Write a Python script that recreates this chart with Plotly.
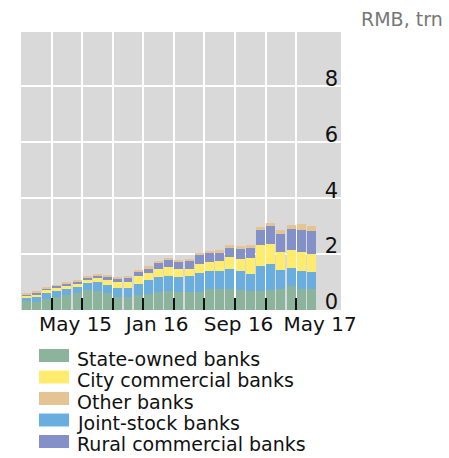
import plotly.graph_objects as go

# Monthly, Jan 2015 - May 2017 (RMB trn)
months = [
    "Jan 15", "Feb 15", "Mar 15", "Apr 15", "May 15", "Jun 15", "Jul 15", "Aug 15",
    "Sep 15", "Oct 15", "Nov 15", "Dec 15", "Jan 16", "Feb 16", "Mar 16", "Apr 16",
    "May 16", "Jun 16", "Jul 16", "Aug 16", "Sep 16", "Oct 16", "Nov 16", "Dec 16",
    "Jan 17", "Feb 17", "Mar 17", "Apr 17", "May 17",
]
state_owned = [0.31, 0.30, 0.39, 0.45, 0.54, 0.61, 0.73, 0.69, 0.62, 0.45, 0.45, 0.53, 0.58, 0.65, 0.68,
               0.65, 0.65, 0.65, 0.74, 0.75, 0.74, 0.71, 0.69, 0.68, 0.71, 0.75, 0.86, 0.75, 0.75]
joint_stock = [0.13, 0.15, 0.23, 0.24, 0.22, 0.22, 0.22, 0.32, 0.28, 0.35, 0.35, 0.39, 0.49, 0.53, 0.54,
               0.53, 0.56, 0.66, 0.65, 0.64, 0.72, 0.68, 0.59, 0.89, 0.93, 0.69, 0.64, 0.64, 0.61]
city_commercial = [0.09, 0.12, 0.10, 0.11, 0.11, 0.11, 0.13, 0.13, 0.17, 0.20, 0.22, 0.29, 0.26, 0.28, 0.33,
                   0.29, 0.25, 0.34, 0.32, 0.36, 0.44, 0.43, 0.58, 0.75, 0.72, 0.64, 0.64, 0.68, 0.65]
rural_commercial = [0.04, 0.05, 0.05, 0.07, 0.08, 0.07, 0.09, 0.11, 0.14, 0.14, 0.16, 0.18, 0.17, 0.23, 0.24,
                    0.27, 0.30, 0.31, 0.33, 0.29, 0.31, 0.36, 0.37, 0.54, 0.64, 0.64, 0.75, 0.79, 0.82]
other_banks = [0.02, 0.03, 0.03, 0.02, 0.05, 0.04, 0.04, 0.05, 0.04, 0.04, 0.03, 0.04, 0.07, 0.06, 0.07,
               0.06, 0.06, 0.08, 0.08, 0.10, 0.11, 0.11, 0.11, 0.10, 0.11, 0.14, 0.15, 0.22, 0.17]

tick_labels = ["May 15", "Jan 16", "Sep 16", "May 17"]
y_ticks = [0, 2, 4, 6, 8]

# stacking order, bottom to top
stack = [
    ("State-owned banks", state_owned, "#8CB39C"),
    ("Joint-stock banks", joint_stock, "#6AAEE0"),
    ("City commercial banks", city_commercial, "#FFEB6E"),
    ("Rural commercial banks", rural_commercial, "#8490C8"),
    ("Other banks", other_banks, "#E3C492"),
]
legend_order = ["State-owned banks", "City commercial banks", "Other banks",
                "Joint-stock banks", "Rural commercial banks"]

FONT = "DejaVu Sans"
W, H = 449, 458
L, R, T, B = 21, 341, 32, 310

x = list(range(len(months)))

fig = go.Figure()
for name, vals, color in stack:
    fig.add_trace(go.Bar(
        x=x, y=vals, name=name, marker_color=color, marker_line_width=0,
        width=0.88, showlegend=False,
        customdata=months, hovertemplate="%{customdata}<br>" + name + ": %{y:.2f}<extra></extra>",
    ))


def px_x(p):
    return (p - L) / (R - L)


def px_y(p):
    return (B - p) / (B - T)


# hand-made legend (tight line spacing like the original)
colors = {n: c for n, _, c in stack}
shapes = []
annotations = []
for i, name in enumerate(legend_order):
    yc = 355.5 + 21.5 * i
    shapes.append(dict(type="rect", xref="paper", yref="paper",
                       x0=px_x(39), x1=px_x(69), y0=px_y(yc + 6.5), y1=px_y(yc - 6.5),
                       fillcolor=colors[name], line_width=0, layer="above"))
    annotations.append(dict(text=name, xref="paper", yref="paper", x=px_x(75), y=px_y(yc + 3),
                            xanchor="left", yanchor="middle", showarrow=False,
                            font=dict(family=FONT, size=19, color="#111111")))

annotations.append(dict(text="RMB, trn", xref="paper", yref="paper", x=px_x(445), y=px_y(19),
                        xanchor="right", yanchor="middle", showarrow=False,
                        font=dict(family=FONT, size=19, color="#777777")))

quarter_lines = [i + 0.5 for i in range(2, len(months) - 2, 3)]

fig.update_layout(
    width=W, height=H,
    barmode="stack",
    bargap=0,
    plot_bgcolor="#D9D9D9",
    paper_bgcolor="white",
    margin=dict(l=L, r=W - R, t=T, b=H - B, pad=0),
    font=dict(family=FONT, size=20, color="#111111"),
    shapes=shapes,
    annotations=annotations,
    # keep the toolbar out of the picture
    modebar=dict(bgcolor="rgba(0,0,0,0)", color="rgba(0,0,0,0)", activecolor="rgba(0,0,0,0)"),
    xaxis=dict(
        range=[-0.5, 30.9],
        tickmode="array",
        tickvals=[months.index(t) + 0.85 for t in tick_labels],
        ticktext=tick_labels,
        ticks="",
        showgrid=False,
        zeroline=False,
        showline=False,
        tickfont=dict(size=20, color="#111111"),
        minor=dict(tickmode="array", tickvals=quarter_lines, ticks="inside", ticklen=12,
                   tickwidth=1.5, tickcolor="#111111", showgrid=True,
                   gridcolor="white", gridwidth=1.5),
    ),
    yaxis=dict(
        range=[0, 9.95],
        side="right",
        tickmode="array",
        tickvals=y_ticks,
        ticks="",
        ticklabelposition="inside",
        ticklabeloverflow="hide past div",
        ticklabelshift=-8,
        showgrid=True,
        gridcolor="white",
        gridwidth=1.5,
        zeroline=False,
        showline=False,
        tickfont=dict(size=21, color="#111111"),
    ),
)

fig.write_html("out.html", config={"displaylogo": False},
               post_script="document.body.style.margin='0px';")
